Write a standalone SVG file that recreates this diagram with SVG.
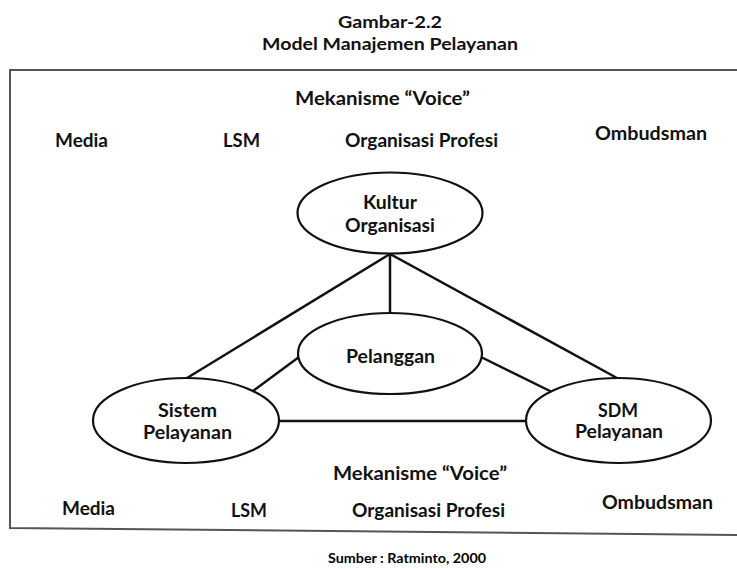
<svg xmlns="http://www.w3.org/2000/svg" width="737" height="569" viewBox="0 0 737 569">
<style>
text{font-family:Lato,"Open Sans","Liberation Sans",sans-serif;font-weight:bold;font-size:19px;fill:#111}
.t{font-size:17.5px}
.s{font-size:13.5px;fill:#000}
.node ellipse{fill:#fff;stroke:#111;stroke-width:2.2}
.conn line{stroke:#111;stroke-width:2.5}
.frame{fill:none;stroke:#555;stroke-width:2}
</style>
<rect width="737" height="569" fill="#fff"/>
<g id="title">
<text class="t" x="338" y="28" textLength="104" lengthAdjust="spacingAndGlyphs">Gambar-2.2</text>
<text class="t" x="262" y="50" textLength="256" lengthAdjust="spacingAndGlyphs">Model Manajemen Pelayanan</text>
</g>
<polyline class="frame" points="737,70 10,70 10,528 737,535"/>
<g id="voice-top">
<text x="295" y="105" textLength="175" lengthAdjust="spacingAndGlyphs">Mekanisme “Voice”</text>
<text x="55" y="147" textLength="53" lengthAdjust="spacingAndGlyphs">Media</text>
<text x="223" y="147" textLength="37" lengthAdjust="spacingAndGlyphs">LSM</text>
<text x="345" y="147" textLength="153" lengthAdjust="spacingAndGlyphs">Organisasi Profesi</text>
<text x="595" y="140" textLength="112" lengthAdjust="spacingAndGlyphs">Ombudsman</text>
</g>
<g id="connectors" class="conn">
<line x1="390" y1="254" x2="187" y2="378"/>
<line x1="390" y1="254" x2="390" y2="313"/>
<line x1="390" y1="254" x2="617" y2="378"/>
<line x1="253" y1="391" x2="299" y2="357"/>
<line x1="481" y1="357" x2="552" y2="392"/>
<line x1="279" y1="421" x2="526" y2="421"/>
</g>
<g id="kultur" class="node">
<ellipse cx="390" cy="213" rx="92.5" ry="40.5"/>
<text x="363" y="209" textLength="54" lengthAdjust="spacingAndGlyphs">Kultur</text>
<text x="345" y="232" textLength="90" lengthAdjust="spacingAndGlyphs">Organisasi</text>
</g>
<g id="pelanggan" class="node">
<ellipse cx="390" cy="353.5" rx="92" ry="40.5"/>
<text x="346" y="363" textLength="89" lengthAdjust="spacingAndGlyphs">Pelanggan</text>
</g>
<g id="sistem" class="node">
<ellipse cx="186" cy="420.5" rx="93" ry="42.5"/>
<text x="158" y="417" textLength="59" lengthAdjust="spacingAndGlyphs">Sistem</text>
<text x="143" y="439" textLength="89" lengthAdjust="spacingAndGlyphs">Pelayanan</text>
</g>
<g id="sdm" class="node">
<ellipse cx="618.5" cy="420.5" rx="92.5" ry="42.5"/>
<text x="598" y="417" textLength="40" lengthAdjust="spacingAndGlyphs">SDM</text>
<text x="575" y="438" textLength="88" lengthAdjust="spacingAndGlyphs">Pelayanan</text>
</g>
<g id="voice-bottom">
<text x="333" y="480" textLength="174" lengthAdjust="spacingAndGlyphs">Mekanisme “Voice”</text>
<text x="62" y="515" textLength="53" lengthAdjust="spacingAndGlyphs">Media</text>
<text x="231" y="517" textLength="36" lengthAdjust="spacingAndGlyphs">LSM</text>
<text x="352" y="517" textLength="153" lengthAdjust="spacingAndGlyphs">Organisasi Profesi</text>
<text x="602" y="509" textLength="111" lengthAdjust="spacingAndGlyphs">Ombudsman</text>
</g>
<text class="s" x="328" y="563" textLength="158" lengthAdjust="spacingAndGlyphs">Sumber : Ratminto, 2000</text>
</svg>
